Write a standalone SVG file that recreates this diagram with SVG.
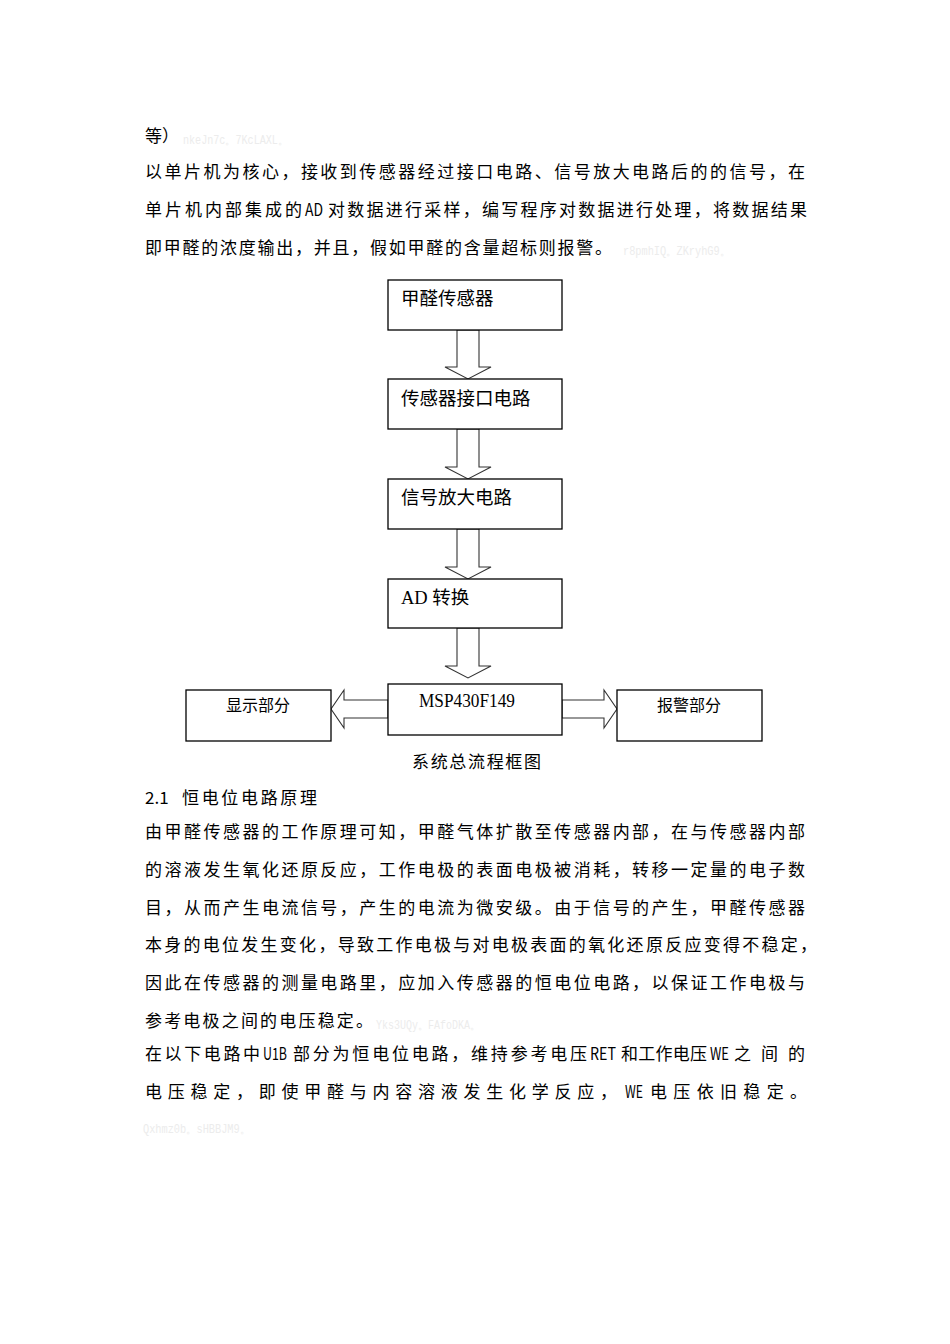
<svg xmlns="http://www.w3.org/2000/svg" width="950" height="1344" viewBox="0 0 950 1344">
<style>
.body{font-family:"Noto Sans CJK SC","Noto Sans CJK JP",sans-serif;font-size:17px;fill:#000}
.faint{font-family:"Liberation Mono","DejaVu Sans Mono",monospace;font-size:12px;fill:#ececec}
.box{fill:#fff;stroke:#000;stroke-width:1.3}
.lbl{font-family:"Liberation Serif","Noto Sans CJK SC",serif;font-size:18.5px;fill:#000}
.lbl2{font-family:"Liberation Serif","Noto Sans CJK SC",serif;font-size:16px;fill:#000}
.arr{fill:#fff;stroke:#333;stroke-width:1.1;stroke-linejoin:miter}
</style>
<rect width="950" height="1344" fill="#fff"/>

<g id="text-top">
<text class="body" x="145" y="142">等）</text>
<text class="faint" x="183" y="144" textLength="105" lengthAdjust="spacingAndGlyphs">nkeJn7c。7KcLAXL。</text>
<text class="body" x="145" y="178" textLength="660" lengthAdjust="spacing">以单片机为核心，接收到传感器经过接口电路、信号放大电路后的的信号，在</text>
<text class="body" x="145" y="216" textLength="157" lengthAdjust="spacing">单片机内部集成的</text>
<text class="body" x="305" y="216" textLength="18" lengthAdjust="spacingAndGlyphs">AD</text>
<text class="body" x="328" y="216" textLength="479" lengthAdjust="spacing">对数据进行采样，编写程序对数据进行处理，将数据结果</text>
<text class="body" x="145" y="254" textLength="467" lengthAdjust="spacing">即甲醛的浓度输出，并且，假如甲醛的含量超标则报警。</text>
<text class="faint" x="623" y="255" textLength="107" lengthAdjust="spacingAndGlyphs">r8pmhIQ。ZKryhG9。</text>
</g>

<g id="connectors">
<polygon class="arr" points="457,330 457,367 445,367 468,379 491,367 479,367 479,330"/>
<polygon class="arr" points="457,429 457,467 445,467 468,479 491,467 479,467 479,429"/>
<polygon class="arr" points="457,529 457,567 445,567 468,579 491,567 479,567 479,529"/>
<polygon class="arr" points="457,628 457,666 445,666 468,678 491,666 479,666 479,628"/>
<polygon class="arr" points="388,700 344,700 344,690 331,709 344,728 344,718 388,718"/>
<polygon class="arr" points="562,700 604,700 604,690 617,709 604,728 604,718 562,718"/>
</g>

<g id="node-sensor">
<rect class="box" x="388" y="280" width="174" height="50"/>
<text class="lbl" x="401" y="305">甲醛传感器</text>
</g>
<g id="node-interface">
<rect class="box" x="388" y="379" width="174" height="50"/>
<text class="lbl" x="401" y="405">传感器接口电路</text>
</g>
<g id="node-amp">
<rect class="box" x="388" y="479" width="174" height="50"/>
<text class="lbl" x="401" y="504">信号放大电路</text>
</g>
<g id="node-ad">
<rect class="box" x="388" y="579" width="174" height="49"/>
<text class="lbl" x="401" y="604">AD 转换</text>
</g>
<g id="node-msp">
<rect class="box" x="388" y="684" width="174" height="51"/>
<text class="lbl" x="419" y="707" font-size="18" textLength="96" lengthAdjust="spacingAndGlyphs">MSP430F149</text>
</g>
<g id="node-display">
<rect class="box" x="186" y="690" width="145" height="51"/>
<text class="lbl2" x="258" y="711" text-anchor="middle">显示部分</text>
</g>
<g id="node-alarm">
<rect class="box" x="617" y="690" width="145" height="51"/>
<text class="lbl2" x="689" y="711" text-anchor="middle">报警部分</text>
</g>

<g id="caption">
<text class="body" x="412" y="768" font-size="16" textLength="129" lengthAdjust="spacing">系统总流程框图</text>
</g>

<g id="text-bottom">
<text class="body" x="145" y="804">2.1</text>
<text class="body" x="182" y="804" textLength="135" lengthAdjust="spacing">恒电位电路原理</text>
<text class="body" x="145" y="838" textLength="660" lengthAdjust="spacing">由甲醛传感器的工作原理可知，甲醛气体扩散至传感器内部，在与传感器内部</text>
<text class="body" x="145" y="876" textLength="660" lengthAdjust="spacing">的溶液发生氧化还原反应，工作电极的表面电极被消耗，转移一定量的电子数</text>
<text class="body" x="145" y="914" textLength="660" lengthAdjust="spacing">目，从而产生电流信号，产生的电流为微安级。由于信号的产生，甲醛传感器</text>
<text class="body" x="145" y="951" textLength="672" lengthAdjust="spacing">本身的电位发生变化，导致工作电极与对电极表面的氧化还原反应变得不稳定，</text>
<text class="body" x="145" y="989" textLength="660" lengthAdjust="spacing">因此在传感器的测量电路里，应加入传感器的恒电位电路，以保证工作电极与</text>
<text class="body" x="145" y="1027" textLength="228" lengthAdjust="spacing">参考电极之间的电压稳定。</text>
<text class="faint" x="376" y="1029" textLength="104" lengthAdjust="spacingAndGlyphs">Yks3UQy。FAfoDKA。</text>
<text class="body" x="145" y="1060" textLength="115" lengthAdjust="spacing">在以下电路中</text>
<text class="body" x="263" y="1060" textLength="24" lengthAdjust="spacingAndGlyphs">U1B</text>
<text class="body" x="293" y="1060" textLength="294" lengthAdjust="spacing">部分为恒电位电路，维持参考电压</text>
<text class="body" x="590" y="1060" textLength="26" lengthAdjust="spacingAndGlyphs">RET</text>
<text class="body" x="621" y="1060" textLength="86" lengthAdjust="spacing">和工作电压</text>
<text class="body" x="710" y="1060" textLength="19" lengthAdjust="spacingAndGlyphs">WE</text>
<text class="body" x="734" y="1060" textLength="71" lengthAdjust="spacing">之间的</text>
<text class="body" x="145" y="1098" textLength="472" lengthAdjust="spacing">电压稳定，即使甲醛与内容溶液发生化学反应，</text>
<text class="body" x="625" y="1098" textLength="18" lengthAdjust="spacingAndGlyphs">WE</text>
<text class="body" x="650" y="1098" textLength="157" lengthAdjust="spacing">电压依旧稳定。</text>
<text class="faint" x="143" y="1133" textLength="107" lengthAdjust="spacingAndGlyphs">Qxhmz0b。sHBBJM9。</text>
</g>
</svg>
